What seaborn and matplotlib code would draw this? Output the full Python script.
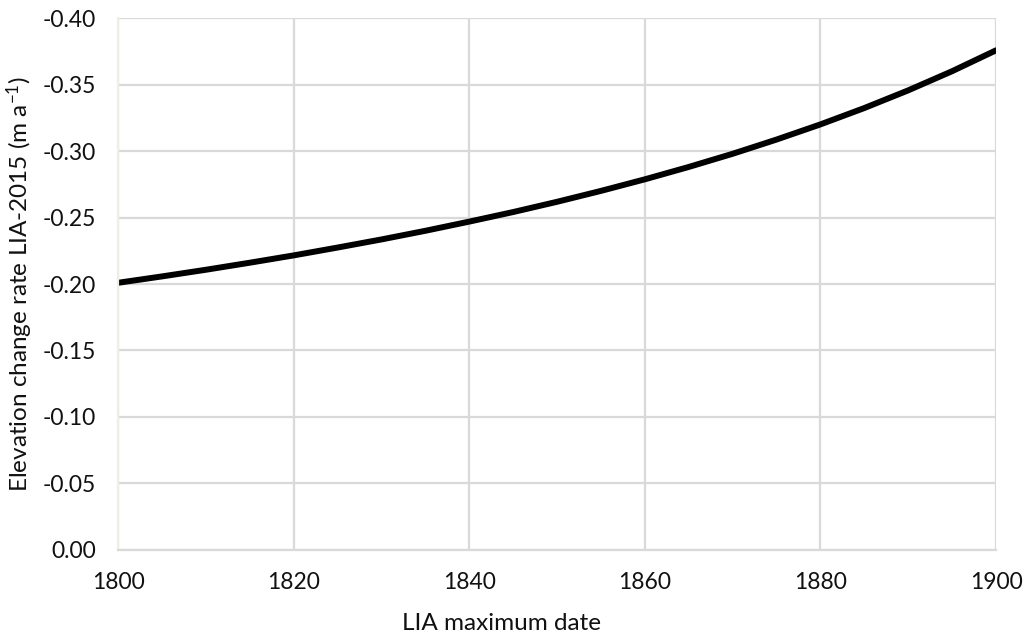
import matplotlib
matplotlib.use("Agg")
import matplotlib.pyplot as plt
import seaborn as sns
import pandas as pd

# LIA maximum date and the resulting elevation change rate to 2015 (m a-1)
years = [1800, 1805, 1810, 1815, 1820, 1825, 1830, 1835, 1840, 1845, 1850,
         1855, 1860, 1865, 1870, 1875, 1880, 1885, 1890, 1895, 1900]
rates = [-0.2009, -0.2057, -0.2107, -0.2160, -0.2215, -0.2274, -0.2335,
         -0.2400, -0.2469, -0.2541, -0.2618, -0.2700, -0.2787, -0.2880,
         -0.2979, -0.3086, -0.3200, -0.3323, -0.3456, -0.3600, -0.3757]
x_ticks = [1800, 1820, 1840, 1860, 1880, 1900]
y_ticks = [0.00, -0.05, -0.10, -0.15, -0.20, -0.25, -0.30, -0.35, -0.40]

df = pd.DataFrame({"year": years, "rate": rates})

sns.set_theme(style="white")
plt.rcParams["font.family"] = ["Lato", "DejaVu Sans"]
plt.rcParams["mathtext.fontset"] = "custom"
plt.rcParams["mathtext.rm"] = "Lato"
plt.rcParams["mathtext.it"] = "Lato:italic"

fig = plt.figure(figsize=(10.27, 6.39), dpi=100)
ax = fig.add_axes([0.1149, 0.1393, 0.8549, 0.8325])

sns.lineplot(data=df, x="year", y="rate", ax=ax, color="black", linewidth=4.3)

ax.set_xlim(1800, 1900)
ax.set_ylim(0.0, -0.40)
ax.set_xticks(x_ticks)
ax.set_yticks(y_ticks)
txt_c = "#111111"
ax.set_xticklabels([str(t) for t in x_ticks], fontsize=16.5, color=txt_c)
ax.set_yticklabels([f"{t:.2f}" if t != 0 else "0.00" for t in y_ticks],
                   fontsize=16.5, color=txt_c)

grid_c = "#d9d9d9"
ax.grid(True, color=grid_c, linewidth=1.6)
ax.set_axisbelow(True)
for s in ["top", "right"]:
    ax.spines[s].set_visible(False)
ax.spines["bottom"].set_color(grid_c)
ax.spines["bottom"].set_linewidth(1.6)
ax.spines["left"].set_color("#f0eee2")
ax.spines["left"].set_linewidth(1.6)
ax.tick_params(axis="x", direction="out", length=5, width=1.4, color=grid_c, pad=11)
ax.tick_params(axis="y", direction="out", length=5, width=1.4, color="#f0eee2", pad=11)

ax.set_xlabel("LIA maximum date", fontsize=17.5, color=txt_c)
ax.xaxis.set_label_coords(0.437, -0.118)
ax.set_ylabel(r"Elevation change rate LIA-2015 (m a$^{\mathregular{-1}}$)",
              fontsize=17.5, color=txt_c)
ax.yaxis.set_label_coords(-0.094, 0.5)

fig.savefig("out.png", dpi=100, facecolor="white")
